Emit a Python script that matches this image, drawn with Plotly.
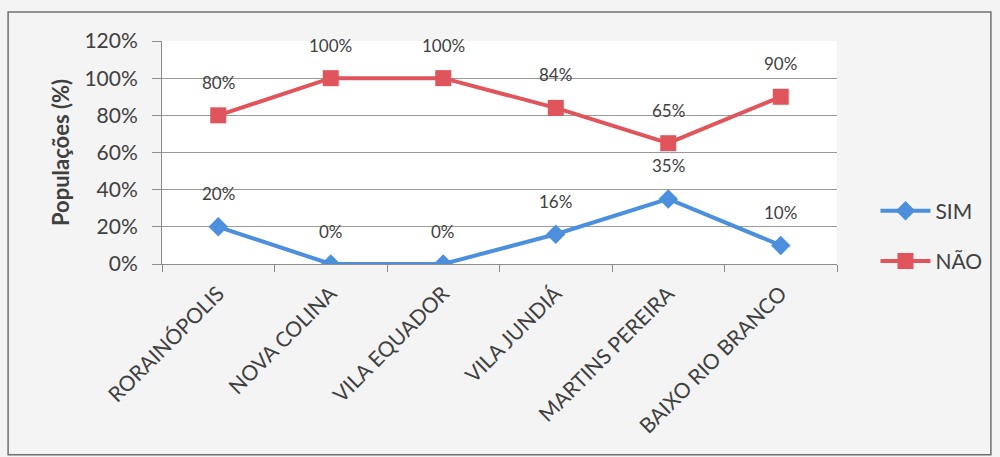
import plotly.graph_objects as go

categorias = ["RORAINÓPOLIS", "NOVA COLINA", "VILA EQUADOR", "VILA JUNDIÁ",
              "MARTINS PEREIRA", "BAIXO RIO BRANCO"]
sim = [20, 0, 0, 16, 35, 10]
nao = [80, 100, 100, 84, 65, 90]
y_ticks = [0, 20, 40, 60, 80, 100, 120]

AZUL = "#4B8FDD"
VERMELHO = "#E0545C"
FONTE = "Lato, 'Open Sans', sans-serif"

fig = go.Figure()
fig.add_trace(go.Scatter(
    x=categorias, y=sim, name="SIM", mode="lines+markers",
    line=dict(color=AZUL, width=4),
    marker=dict(symbol="diamond", size=15, color=AZUL),
    legendgroup="sim",
))
fig.add_trace(go.Scatter(
    x=categorias, y=nao, name="NÃO", mode="lines+markers",
    line=dict(color=VERMELHO, width=4),
    marker=dict(symbol="square", size=16, color=VERMELHO),
    legendgroup="nao",
))

# rótulos de valor acima de cada ponto
for serie in (sim, nao):
    for cat, v in zip(categorias, serie):
        fig.add_annotation(x=cat, y=v, text=f"{v}%", showarrow=False,
                           yshift=33, font=dict(size=17, color="#404040", family=FONTE))

# moldura externa do gráfico
fig.add_shape(type="rect", xref="paper", yref="paper",
              x0=-0.228, x1=1.228, y0=-0.855, y1=1.13,
              line=dict(color="#6f6f6f", width=1.5), fillcolor="rgba(0,0,0,0)", layer="below")

fig.update_layout(
    width=1000, height=457,
    margin=dict(l=162, r=160, t=41, b=193),
    paper_bgcolor="#f4f4f4",
    plot_bgcolor="#ffffff",
    font=dict(family=FONTE, color="#404040"),
    showlegend=True,
    legend=dict(x=1.057, y=0.125, yanchor="middle", xanchor="left",
                font=dict(size=21, color="#404040"), tracegroupgap=20,
                bgcolor="rgba(0,0,0,0)", itemwidth=50),
    xaxis=dict(
        type="category", tickson="boundaries", ticks="outside", ticklen=7,
        tickcolor="#8c8c8c", showline=True, linecolor="#8c8c8c", linewidth=1,
        showgrid=False, tickangle=-45, tickfont=dict(size=21),
        ticklabelstandoff=8, range=[-0.5, 5.5],
    ),
    yaxis=dict(
        range=[0, 120], tickvals=y_ticks, ticktext=[f"{t}%" for t in y_ticks],
        ticks="outside", ticklen=9, tickcolor="#8c8c8c",
        showline=True, linecolor="#8c8c8c", linewidth=1,
        showgrid=True, gridcolor="#9a9a9a", gridwidth=1,
        tickfont=dict(size=21), zeroline=False, ticklabelstandoff=10,
        title=dict(text="<b>Populações (%)</b>", font=dict(size=22), standoff=8),
    ),
)

fig.write_html("out.html")
